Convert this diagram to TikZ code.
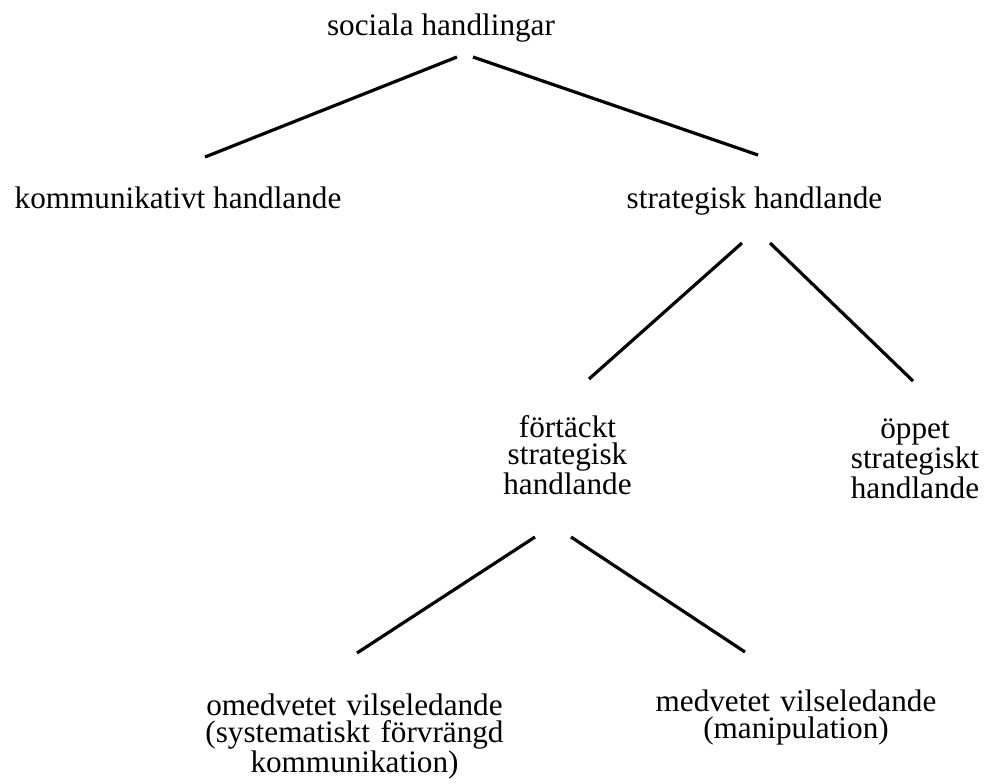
\documentclass[tikz,border=0pt]{standalone}
\usepackage{fontspec}
\setmainfont{Liberation Serif}
\usetikzlibrary{calc}
\begin{document}
\begin{tikzpicture}[x=0.5pt, y=-0.5pt, font=\fontsize{15.6}{13.8}\selectfont]
    \tikzstyle{text_style} = [inner sep=0pt, anchor=base]
    \tikzstyle{multi_style} = [inner sep=0pt, anchor=base, align=center, text width=170pt]
    \tikzstyle{black_line} = [black, line width=1.6pt]

    \useasboundingbox (0,0) rectangle (986,783);

    \node[text_style] (nSoc) at (441,35) {sociala handlingar};
    \node[text_style] (nKom) at (178,208) {kommunikativt handlande};
    \node[text_style] (nStr) at (754.5,208) {strategisk handlande};
    \node[multi_style] (nFor) at (567.5,437) {förtäckt\\strategisk\\handlande};
    \node[multi_style] (nOpp) at (915,438) {öppet\\strategiskt\\handlande};
    \node[multi_style] (nOme) at (354.5,715) {omedvetet vilseledande\\(systematiskt förvrängd\\kommunikation)};
    \node[multi_style] (nMed) at (796,711) {medvetet vilseledande\\(manipulation)};

    \draw[black_line] ($(nSoc.base)+(16,22)$) -- ($(nKom.base)+(27,-51)$);
    \draw[black_line] ($(nSoc.base)+(32,22)$) -- ($(nStr.base)+(3.5,-53)$);
    \draw[black_line] ($(nStr.base)+(-12.5,35)$) -- ($(nFor.base)+(21.5,-58)$);
    \draw[black_line] ($(nStr.base)+(15.5,35)$) -- ($(nOpp.base)+(-2,-57)$);
    \draw[black_line] ($(nFor.base)+(-32.5,100)$) -- ($(nOme.base)+(2.5,-62)$);
    \draw[black_line] ($(nFor.base)+(3.5,100)$) -- ($(nMed.base)+(-51,-59)$);
\end{tikzpicture}
\end{document}
